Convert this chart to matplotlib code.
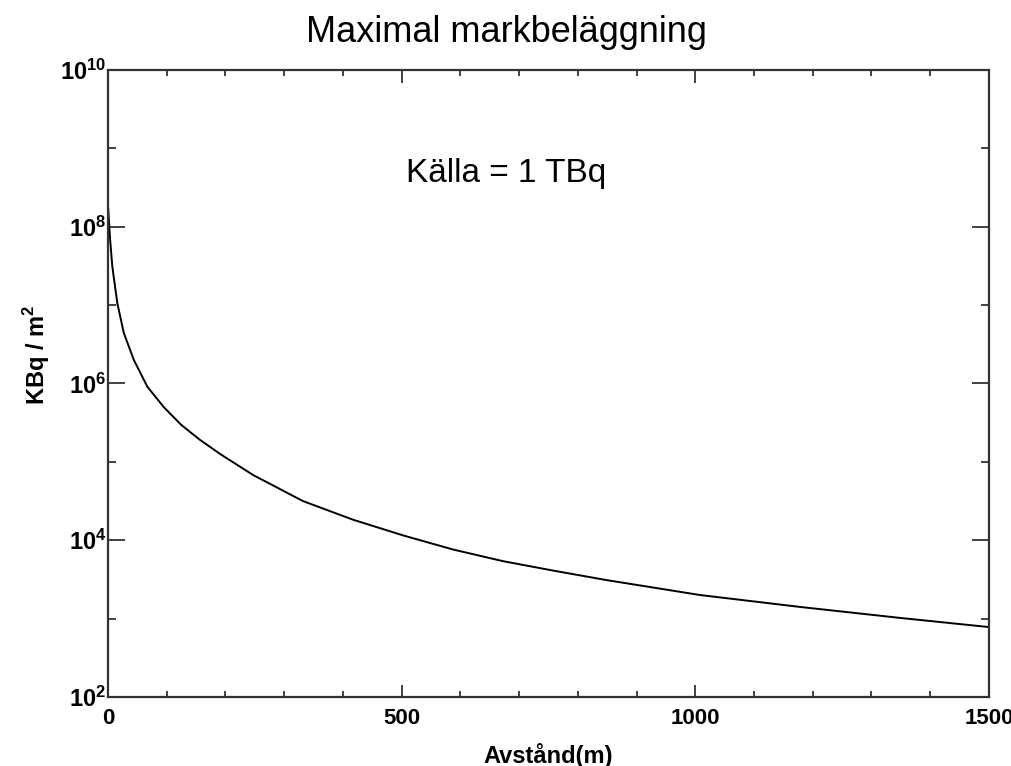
import matplotlib
matplotlib.use("Agg")
import matplotlib.pyplot as plt
from matplotlib.ticker import FixedLocator, NullFormatter

avstand = [0, 3.5, 7.4, 16, 27, 44, 67, 95, 124, 155, 191, 247, 332, 418,
           503, 588, 673, 758, 849, 1008, 1178, 1349, 1500]
belaggning = [1.9e8, 7.1e7, 3.1e7, 1.05e7, 4.4e6, 2.0e6, 9.1e5, 5.0e5, 3.0e5,
              1.95e5, 1.26e5, 6.8e4, 3.16e4, 1.82e4, 1.15e4, 7.6e3, 5.4e3,
              4.1e3, 3.1e3, 2.0e3, 1.41e3, 1.02e3, 780]

x_ticks = [0, 500, 1000, 1500]
y_ticks = [1e2, 1e4, 1e6, 1e8, 1e10]
y_labels = [r"$\mathbf{10^{2}}$", r"$\mathbf{10^{4}}$", r"$\mathbf{10^{6}}$",
            r"$\mathbf{10^{8}}$", r"$\mathbf{10^{10}}$"]

plt.rcParams["font.family"] = ["Liberation Sans", "DejaVu Sans"]
plt.rcParams["mathtext.fontset"] = "custom"
plt.rcParams["mathtext.rm"] = "Liberation Sans"
plt.rcParams["mathtext.bf"] = "Liberation Sans:bold"

fig = plt.figure(figsize=(10.11, 7.66), dpi=100)
ax = fig.add_axes([0.1068, 0.0901, 0.8714, 0.8185])

ax.plot(avstand, belaggning, color="black", lw=1.4)
ax.set_yscale("log")
ax.set_xlim(0, 1500)
ax.set_ylim(1e2, 1e10)

ax.set_xticks(x_ticks)
ax.set_xticklabels([str(v) for v in x_ticks], fontsize=16, fontweight="bold")
ax.xaxis.set_minor_locator(FixedLocator(range(0, 1501, 100)))
ax.set_yticks(y_ticks)
ax.set_yticklabels(y_labels, fontsize=17)
ax.yaxis.set_minor_locator(FixedLocator([1e3, 1e5, 1e7, 1e9]))
ax.yaxis.set_minor_formatter(NullFormatter())

ax.tick_params(axis="both", which="both", direction="in", top=True, right=True,
               width=1.3, color="#333333")
ax.tick_params(axis="x", which="major", length=9, pad=8)
ax.tick_params(axis="x", which="minor", length=4.5)
ax.tick_params(axis="y", which="major", length=12, pad=1)
ax.tick_params(axis="y", which="minor", length=6)
for s in ax.spines.values():
    s.set_linewidth(1.6)
    s.set_color("#333333")

ax.set_xlabel("Avstånd(m)", fontsize=17, fontweight="bold", labelpad=10)
ax.set_ylabel("KBq / m$^{\\mathbf{2}}$", fontsize=17, fontweight="bold")
ax.yaxis.set_label_coords(-0.064, 0.545)

fig.text(0.5005, 0.958, "Maximal markbeläggning", fontsize=26, ha="center", va="center")
ax.text(0.452, 0.835, "Källa = 1 TBq", fontsize=24, ha="center", va="center",
        transform=ax.transAxes)

fig.savefig("out.png", dpi=100)
